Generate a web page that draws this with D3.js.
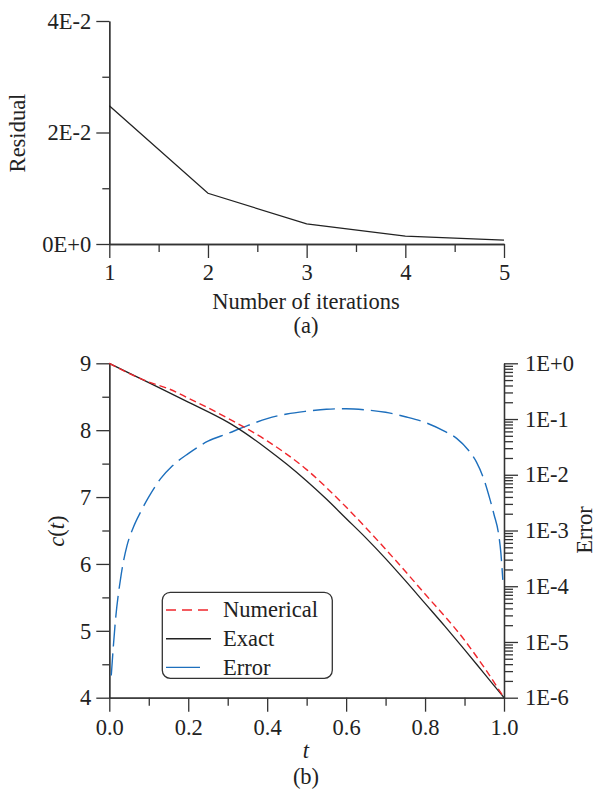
<!DOCTYPE html>
<html>
<head>
<meta charset="utf-8">
<script src="https://cdn.jsdelivr.net/npm/d3@7"></script>
<style>
    body, html { margin: 0; padding: 0; background: #fff; }
    svg { display: block; }
    text { font-family: "Liberation Serif", "Times New Roman", serif; fill: #222; }
</style>
</head>
<body>
<svg width="596" height="794"></svg>
<script>
    // ---- data: panel (a) ----
    var iterations = [1, 2, 3, 4, 5];
    var residuals = [0.0248, 0.0091, 0.0036, 0.0014, 0.0007];
    var resTicks = [0, 0.02, 0.04];
    var resTickLabels = ["0E+0", "2E-2", "4E-2"];
    var resMinor = [0.01, 0.03];
    var iterMinor = [1.5, 2.5, 3.5, 4.5];

    // ---- data: panel (b) ----
    var tExact = [0, 0.1, 0.2, 0.3, 0.32, 0.4, 0.45, 0.5, 0.55, 0.6, 0.65, 0.7, 0.75, 0.8, 0.85, 0.9, 0.95, 1.0];
    var cExact = [9, 8.71, 8.42, 8.12, 8.05, 7.72, 7.49, 7.24, 6.97, 6.68, 6.39, 6.08, 5.75, 5.41, 5.07, 4.72, 4.36, 4.0];
    var tNum = [0, 0.1, 0.15, 0.2, 0.3, 0.4, 0.5, 0.6, 0.7, 0.8, 0.9, 0.95, 1.0];
    var cNum = [9, 8.72, 8.62, 8.48, 8.18, 7.84, 7.41, 6.85, 6.22, 5.55, 4.86, 4.45, 4.0];
    var tErr = [0.005, 0.015, 0.03, 0.045, 0.06, 0.08, 0.1, 0.13, 0.16, 0.2, 0.25, 0.3, 0.35, 0.4, 0.45, 0.5,
                0.55, 0.6, 0.65, 0.7, 0.75, 0.8, 0.85, 0.88, 0.91, 0.93, 0.95, 0.965, 0.975, 0.986, 0.992, 0.997];
    var errVals = [2.5e-6, 2.2e-5, 1.6e-4, 5.4e-4, 1.1e-3, 2.2e-3, 4.0e-3, 8.5e-3, 1.45e-2, 2.4e-2, 4.0e-2, 5.5e-2, 7.6e-2, 0.102, 0.123, 0.138,
                   0.150, 0.153, 0.146, 0.132, 0.110, 0.087, 0.060, 0.045, 0.0275, 0.017, 0.0079, 3.5e-3, 1.9e-3, 8.9e-4, 4.0e-4, 1.3e-4];
    var cTicks = [4, 5, 6, 7, 8, 9];
    var cMinor = [4.5, 5.5, 6.5, 7.5, 8.5];
    var tTicks = [0, 0.2, 0.4, 0.6, 0.8, 1.0];
    var tMinor = [0.1, 0.3, 0.5, 0.7, 0.9];
    var errTicks = [1e0, 1e-1, 1e-2, 1e-3, 1e-4, 1e-5, 1e-6];
    var errTickLabels = ["1E+0", "1E-1", "1E-2", "1E-3", "1E-4", "1E-5", "1E-6"];
    var legendNames = ["Numerical", "Exact", "Error"];

    var axisColor = "#333";
    var redColor = "#f0262c";
    var blueColor = "#1d6fbd";
    var fontSize = 22.5;

    var svg = d3.select("svg");

    function styleAxis(g) {
        g.selectAll("path, line").attr("stroke", axisColor).attr("stroke-width", 1.3);
        g.selectAll("text").attr("font-size", fontSize)
            .style("font-family", "'Liberation Serif', 'Times New Roman', serif").attr("fill", "#222");
    }

    // ================= panel (a) =================
    var xA = d3.scaleLinear().domain([1, 5]).range([109.3, 504]);
    var yA = d3.scaleLinear().domain([0, 0.04]).range([244, 21]);

    svg.append("g").attr("transform", "translate(109.3,0)")
        .call(d3.axisLeft(yA).tickValues(resMinor).tickSize(7).tickFormat("").tickSizeOuter(0))
        .call(styleAxis);
    svg.append("g").attr("transform", "translate(109.3,0)")
        .call(d3.axisLeft(yA).tickValues(resTicks).tickSize(13).tickPadding(5).tickSizeOuter(0)
            .tickFormat(function (d, i) { return resTickLabels[i]; }))
        .call(styleAxis);

    svg.append("g").attr("transform", "translate(0,244)")
        .call(d3.axisBottom(xA).tickValues(iterMinor).tickSize(8).tickFormat("").tickSizeOuter(0))
        .call(styleAxis);
    svg.append("g").attr("transform", "translate(0,244)")
        .call(d3.axisBottom(xA).tickValues(iterations).tickSize(14).tickPadding(6).tickSizeOuter(0)
            .tickFormat(d3.format("d")))
        .call(styleAxis);

    svg.append("path")
        .datum(iterations.map(function (d, i) { return [d, residuals[i]]; }))
        .attr("fill", "none").attr("stroke", "#222").attr("stroke-width", 1.3)
        .attr("d", d3.line().x(function (d) { return xA(d[0]); }).y(function (d) { return yA(d[1]); }));

    svg.append("text").attr("transform", "translate(25,133) rotate(-90)")
        .attr("text-anchor", "middle").attr("font-size", fontSize).text("Residual");
    svg.append("text").attr("x", 306).attr("y", 309)
        .attr("text-anchor", "middle").attr("font-size", fontSize).text("Number of iterations");
    svg.append("text").attr("x", 306).attr("y", 333)
        .attr("text-anchor", "middle").attr("font-size", fontSize).text("(a)");

    // ================= panel (b) =================
    var xB = d3.scaleLinear().domain([0, 1]).range([109.3, 504]);
    var yB = d3.scaleLinear().domain([4, 9]).range([697.7, 363.3]);
    var yE = d3.scaleLog().domain([1e-6, 1]).range([697.7, 363.3]);

    // left axis
    svg.append("g").attr("transform", "translate(109.3,0)")
        .call(d3.axisLeft(yB).tickValues(cMinor).tickSize(7).tickFormat("").tickSizeOuter(0))
        .call(styleAxis);
    svg.append("g").attr("transform", "translate(109.3,0)")
        .call(d3.axisLeft(yB).tickValues(cTicks).tickSize(13).tickPadding(5).tickSizeOuter(0)
            .tickFormat(d3.format("d")))
        .call(styleAxis);

    // bottom axis
    svg.append("g").attr("transform", "translate(0,697.7)")
        .call(d3.axisBottom(xB).tickValues(tMinor).tickSize(8).tickFormat("").tickSizeOuter(0))
        .call(styleAxis);
    svg.append("g").attr("transform", "translate(0,697.7)")
        .call(d3.axisBottom(xB).tickValues(tTicks).tickSize(14).tickPadding(7).tickSizeOuter(0)
            .tickFormat(d3.format(".1f")))
        .call(styleAxis);

    // right log axis: minor ticks 2..9 in each decade
    var errMinor = [];
    errTicks.slice(1).forEach(function (p) {
        for (var k = 2; k <= 9; k++) errMinor.push(p * k);
    });
    svg.append("g").attr("transform", "translate(504,0)")
        .call(d3.axisRight(yE).tickValues(errMinor).tickSize(9).tickFormat("").tickSizeOuter(0))
        .call(styleAxis);
    svg.append("g").attr("transform", "translate(504,0)")
        .call(d3.axisRight(yE).tickValues(errTicks).tickSize(14).tickPadding(7).tickSizeOuter(0)
            .tickFormat(function (d, i) { return errTickLabels[i]; }))
        .call(styleAxis);

    // curves
    var clipId = "plotB";
    svg.append("clipPath").attr("id", clipId).append("rect")
        .attr("x", 109.3).attr("y", 360).attr("width", 394.7).attr("height", 338);

    var lineC = d3.line().curve(d3.curveMonotoneX)
        .x(function (d) { return xB(d[0]); }).y(function (d) { return yB(d[1]); });
    var lineE = d3.line().curve(d3.curveMonotoneX)
        .x(function (d) { return xB(d[0]); }).y(function (d) { return yE(d[1]); });

    svg.append("path")
        .datum(tErr.map(function (d, i) { return [d, errVals[i]]; }))
        .attr("clip-path", "url(#" + clipId + ")")
        .attr("fill", "none").attr("stroke", blueColor).attr("stroke-width", 1.4)
        .attr("stroke-dasharray", "22,7").attr("d", lineE);

    svg.append("path")
        .datum(tExact.map(function (d, i) { return [d, cExact[i]]; }))
        .attr("fill", "none").attr("stroke", "#222").attr("stroke-width", 1.3).attr("d", lineC);

    svg.append("path")
        .datum(tNum.map(function (d, i) { return [d, cNum[i]]; }))
        .attr("fill", "none").attr("stroke", redColor).attr("stroke-width", 1.4)
        .attr("stroke-dasharray", "7,4").attr("d", lineC);

    // legend
    var legend = svg.append("g");
    legend.append("rect").attr("x", 162.3).attr("y", 592.3).attr("width", 170).attr("height", 86)
        .attr("rx", 8).attr("fill", "#fff").attr("stroke", "#333").attr("stroke-width", 1.3);
    var legendStyles = [
        { color: redColor, dash: "10,6", x2: 209 },
        { color: "#222", dash: null, x2: 211 },
        { color: blueColor, dash: null, x2: 200 }
    ];
    legendNames.forEach(function (name, i) {
        var y = 610 + i * 28.7;
        legend.append("line").attr("x1", 166).attr("x2", legendStyles[i].x2)
            .attr("y1", y).attr("y2", y)
            .attr("stroke", legendStyles[i].color).attr("stroke-width", 1.4)
            .attr("stroke-dasharray", legendStyles[i].dash);
        legend.append("text").attr("x", 223).attr("y", y).attr("dy", "0.33em")
            .attr("font-size", fontSize).text(name);
    });

    // axis titles
    var cLabel = svg.append("text").attr("transform", "translate(64,531) rotate(-90)")
        .attr("text-anchor", "middle").attr("font-size", fontSize);
    cLabel.append("tspan").attr("font-style", "italic").text("c");
    cLabel.append("tspan").text("(");
    cLabel.append("tspan").attr("font-style", "italic").text("t");
    cLabel.append("tspan").text(")");

    svg.append("text").attr("transform", "translate(592,530) rotate(-90)")
        .attr("text-anchor", "middle").attr("font-size", fontSize).text("Error");
    svg.append("text").attr("x", 306).attr("y", 758).attr("font-style", "italic")
        .attr("text-anchor", "middle").attr("font-size", fontSize).text("t");
    svg.append("text").attr("x", 306).attr("y", 784)
        .attr("text-anchor", "middle").attr("font-size", fontSize).text("(b)");
</script>
</body>
</html>
